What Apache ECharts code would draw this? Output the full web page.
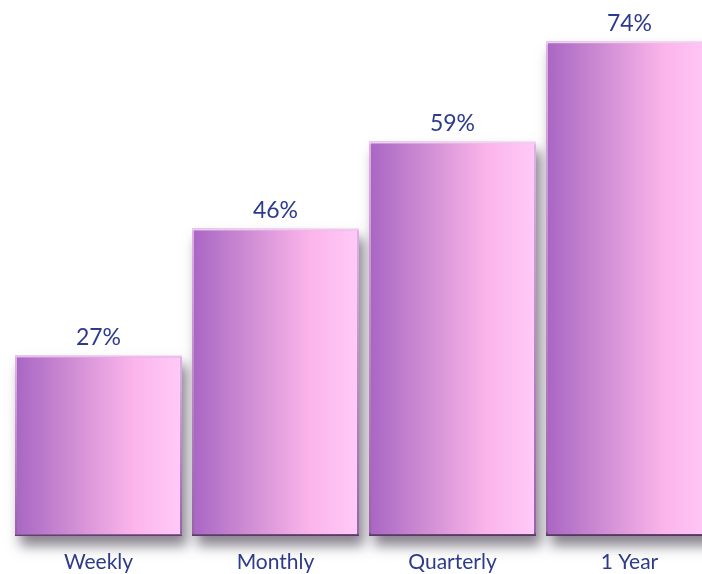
<!DOCTYPE html>
<html>
<head>
<meta charset="utf-8">
<script src="https://cdn.jsdelivr.net/npm/echarts@6/dist/echarts.min.js"></script>
<style>
  html, body { margin: 0; padding: 0; background: #fff; }
  #chart { width: 702px; height: 574px; }
</style>
</head>
<body>
<div id="chart"></div>
<script>
// periods and share values (%)
const categories = ['Weekly', 'Monthly', 'Quarterly', '1 Year'];
const values = [27, 46, 59, 74];

const chart = echarts.init(document.getElementById('chart'));

const barFill = new echarts.graphic.LinearGradient(0, 0, 1, 0, [
  { offset: 0, color: '#a866c4' },
  { offset: 0.35, color: '#d08ed4' },
  { offset: 0.7, color: '#fbb4ea' },
  { offset: 1, color: '#ffcaf8' }
]);
const bevel = new echarts.graphic.LinearGradient(0, 0, 0, 1, [
  { offset: 0, color: '#f6dcf6' },
  { offset: 0.01, color: '#e0b0e4' },
  { offset: 0.99, color: '#9a62a8' },
  { offset: 1, color: '#4e3458' }
]);

chart.setOption({
  animation: false,
  grid: { left: 10, width: 708, top: 1, bottom: 38, outerBoundsMode: 'none', containLabel: false },
  xAxis: {
    type: 'category',
    data: categories,
    axisLine: { show: false },
    axisTick: { show: false },
    axisLabel: {
      color: '#2e3a8c',
      fontSize: 21,
      fontFamily: 'Lato',
      margin: 16
    }
  },
  yAxis: {
    type: 'value',
    min: 0,
    max: 80,
    show: false,
    splitLine: { show: false }
  },
  series: [
    {
      type: 'bar',
      data: values,
      barWidth: 167,
      itemStyle: {
        color: barFill,
        shadowColor: 'rgba(40, 30, 50, 0.55)',
        shadowBlur: 12,
        shadowOffsetX: 5,
        shadowOffsetY: 10
      },
      label: {
        show: true,
        position: 'top',
        distance: 6,
        color: '#2e3a8c',
        fontSize: 23,
        fontFamily: 'Lato',
        formatter: p => p.value + '%'
      }
    },
    {
      // bevel edge drawn on top, without shadow
      type: 'bar',
      data: values,
      barWidth: 167,
      barGap: '-100%',
      silent: true,
      itemStyle: {
        color: 'transparent',
        borderColor: bevel,
        borderWidth: 2
      }
    }
  ]
});
</script>
</body>
</html>
